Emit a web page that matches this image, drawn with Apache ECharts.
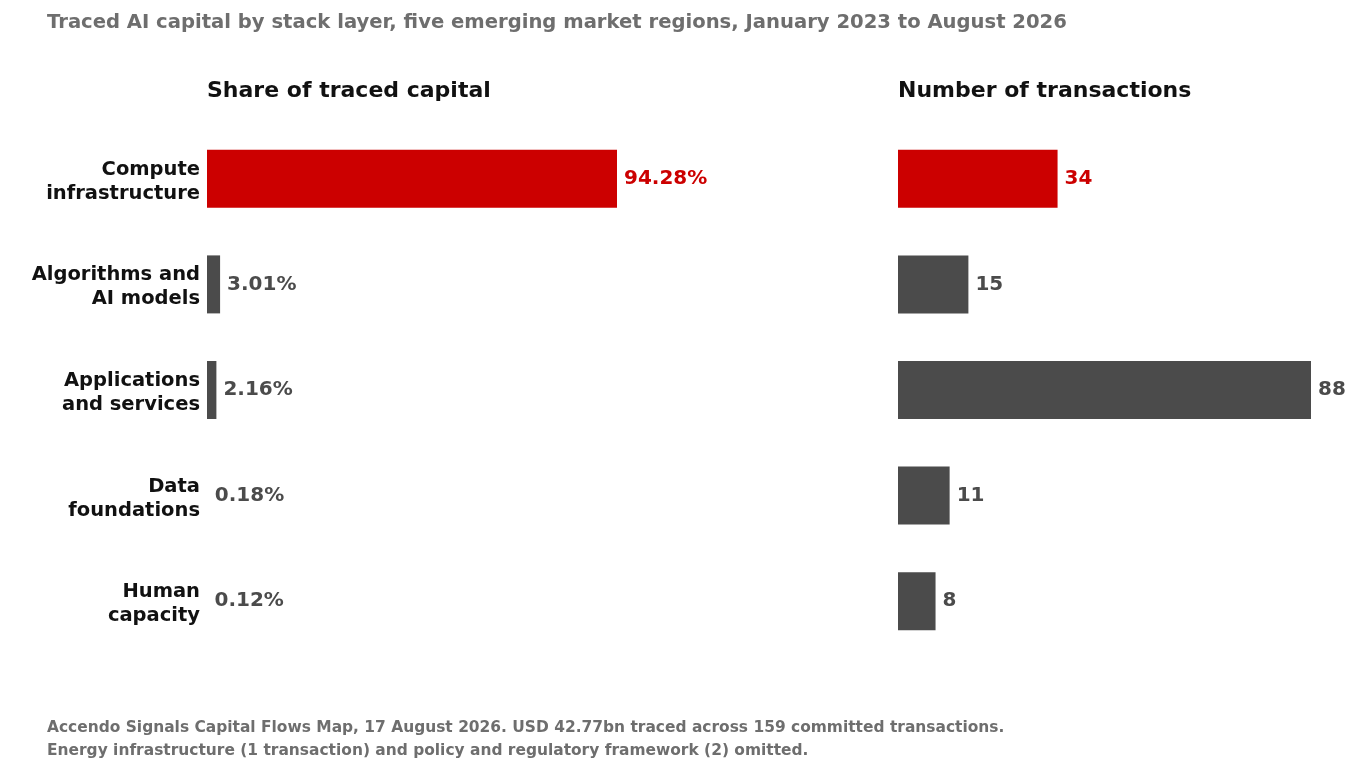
<!DOCTYPE html>
<html>
<head>
<meta charset="utf-8">
<script src="https://cdn.jsdelivr.net/npm/echarts@6/dist/echarts.min.js"></script>
<style>
  html, body { margin: 0; padding: 0; background: #fff; }
  #main { width: 1361px; height: 773px; }
</style>
</head>
<body>
<div id="main"></div>
<script>
// stack layers, top to bottom
const layers = [
  'Compute\ninfrastructure',
  'Algorithms and\nAI models',
  'Applications\nand services',
  'Data\nfoundations',
  'Human\ncapacity'
];
const capitalShare = [94.28, 3.01, 2.16, 0.18, 0.12];
const transactions = [34, 15, 88, 11, 8];
const highlightIndex = 0;

const RED = '#cc0000';
const GREY = '#4b4b4b';
const FONT = 'DejaVu Sans';

const chart = echarts.init(document.getElementById('main'));

// bars thinner than a pixel are not drawn in the original
function barData(values, pxPerUnit) {
  return values.map((v, i) => ({
    value: v,
    itemStyle: {
      color: v * pxPerUnit < 1 ? 'transparent' : (i === highlightIndex ? RED : GREY)
    },
    label: { color: i === highlightIndex ? RED : GREY }
  }));
}

chart.setOption({
  animation: false,
  textStyle: { fontFamily: FONT },
  title: [
    {
      text: 'Traced AI capital by stack layer, five emerging market regions, January 2023 to August 2026',
      left: 47, top: 13, padding: 0,
      textStyle: { fontFamily: FONT, fontSize: 19.6, fontWeight: 'bold', color: '#6e6e6e' }
    },
    {
      text: 'Share of traced capital',
      left: 207, top: 80, padding: 0,
      textStyle: { fontFamily: FONT, fontSize: 22, fontWeight: 'bold', color: '#111' }
    },
    {
      text: 'Number of transactions',
      left: 898, top: 80, padding: 0,
      textStyle: { fontFamily: FONT, fontSize: 22, fontWeight: 'bold', color: '#111' }
    },
    {
      text: 'Accendo Signals Capital Flows Map, 17 August 2026. USD 42.77bn traced across 159 committed transactions.\nEnergy infrastructure (1 transaction) and policy and regulatory framework (2) omitted.',
      left: 47, top: 716, padding: 0,
      textStyle: { fontFamily: FONT, fontSize: 15.45, fontWeight: 'bold', color: '#6e6e6e', lineHeight: 23 }
    }
  ],
  grid: [
    { left: 207, top: 126, width: 410, height: 528 },
    { left: 898, top: 126, width: 413, height: 528 },
    // label-only grid, nudged down a little like the original labels
    { left: 207, top: 129, width: 410, height: 528 }
  ],
  xAxis: [
    { gridIndex: 0, type: 'value', min: 0, max: 'dataMax', show: false },
    { gridIndex: 1, type: 'value', min: 0, max: 'dataMax', show: false },
    { gridIndex: 2, type: 'value', min: 0, max: 100, show: false }
  ],
  yAxis: [
    { gridIndex: 0, type: 'category', data: layers, inverse: true, show: false },
    { gridIndex: 1, type: 'category', data: layers, inverse: true, show: false },
    {
      gridIndex: 2, type: 'category', data: layers, inverse: true,
      axisLine: { show: false }, axisTick: { show: false }, splitLine: { show: false },
      axisLabel: {
        margin: 7, align: 'right', fontFamily: FONT, fontSize: 19.5, fontWeight: 'bold',
        color: '#111', lineHeight: 24
      }
    }
  ],
  series: [
    {
      type: 'bar', xAxisIndex: 0, yAxisIndex: 0,
      data: barData(capitalShare, 410 / 94.28),
      barWidth: 58,
      label: {
        show: true, position: 'right', distance: 7,
        fontFamily: FONT, fontSize: 20, fontWeight: 'bold',
        formatter: p => p.value.toFixed(2) + '%'
      }
    },
    {
      type: 'bar', xAxisIndex: 1, yAxisIndex: 1,
      data: barData(transactions, 413 / 88),
      barWidth: 58,
      label: {
        show: true, position: 'right', distance: 7,
        fontFamily: FONT, fontSize: 20, fontWeight: 'bold'
      }
    }
  ]
});
</script>
</body>
</html>
